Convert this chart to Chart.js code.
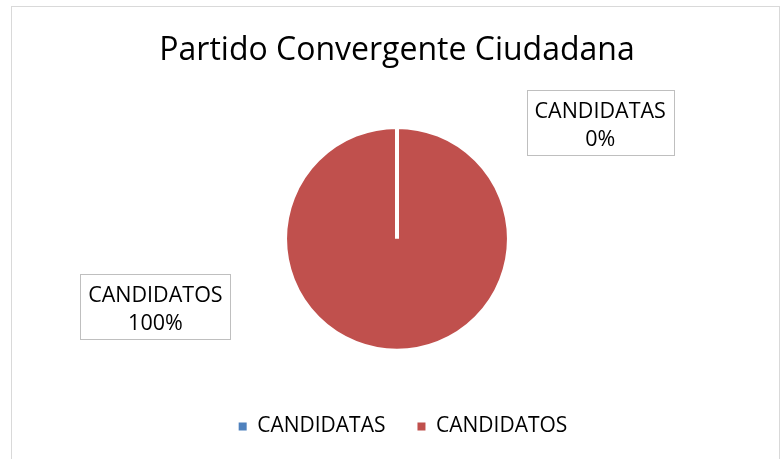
<!DOCTYPE html>
<html>
<head>
<meta charset="utf-8">
<script src="https://cdn.jsdelivr.net/npm/chart.js@4/dist/chart.umd.min.js"></script>
<style>
  html, body { margin: 0; padding: 0; background: #fff; overflow: hidden; }
  #frame { position: absolute; left: 11px; top: 6px; width: 769px; height: 470px; border: 1px solid #d9d9d9; box-sizing: border-box; }
  #wrap { position: absolute; left: 0; top: 0; width: 784px; height: 459px; }
</style>
</head>
<body>
<div id="frame"></div>
<div id="wrap"><canvas id="c" width="784" height="459"></canvas></div>
<script>
const chartTitle = 'Partido Convergente Ciudadana';
const categories = ['CANDIDATAS', 'CANDIDATOS'];
const values = [0, 100];
const percentLabels = ['0%', '100%'];
const sliceColors = ['#4f81bd', '#c0504d'];

const FONT = "'Open Sans', 'Noto Sans', sans-serif";

// label box anchors relative to pie centre, as multiples of radius
const labelOffsets = [[1.815, -1.036], [-2.158, 0.608]];

const boxLabels = {
  id: 'boxLabels',
  afterDatasetsDraw(chart) {
    const ctx = chart.ctx;
    const meta = chart.getDatasetMeta(0);
    ctx.save();
    ctx.font = '21.5px ' + FONT;
    ctx.textAlign = 'center';
    ctx.textBaseline = 'alphabetic';
    meta.data.forEach((arc, i) => {
      const r = arc.outerRadius;
      const cx = arc.x + labelOffsets[i][0] * r;
      const cy = arc.y + labelOffsets[i][1] * r;
      const l1 = categories[i], l2 = percentLabels[i];
      const w = Math.round(Math.max(ctx.measureText(l1).width, ctx.measureText(l2).width) + 16);
      const h = 65;
      const x0 = Math.round(cx - w / 2) + 0.5, y0 = Math.round(cy - h / 2) + 0.5;
      ctx.fillStyle = '#fff';
      ctx.fillRect(x0, y0, w, h);
      ctx.strokeStyle = '#bfbfbf';
      ctx.lineWidth = 1;
      ctx.strokeRect(x0, y0, w, h);
      ctx.fillStyle = '#000';
      ctx.fillText(l1, cx, cy - 4.5);
      ctx.fillText(l2, cx, cy + 23.5);
    });
    ctx.restore();
  }
};

// nudge the legend row slightly right, as in the reference
const legendNudge = {
  id: 'legendNudge',
  afterLayout(chart) {
    if (chart.legend) { chart.legend.left += 6; chart.legend.right += 6; }
  }
};

new Chart(document.getElementById('c'), {
  type: 'pie',
  data: {
    labels: categories,
    datasets: [{
      data: values,
      backgroundColor: sliceColors,
      borderColor: '#ffffff',
      borderWidth: 4
    }]
  },
  options: {
    responsive: false,
    animation: false,
    layout: { padding: { top: 0, bottom: 12, left: 10, right: 0 } },
    plugins: {
      title: {
        display: true,
        text: chartTitle,
        color: '#000',
        font: { family: FONT, size: 32, weight: 'normal' },
        padding: { top: 32, bottom: 54.5 }
      },
      legend: {
        position: 'bottom',
        title: { display: true, text: '', font: { size: 1 }, padding: { top: 30, bottom: 0 } },
        labels: {
          boxWidth: 8, boxHeight: 8,
          padding: 32,
          color: '#000',
          font: { family: FONT, size: 21 },
          generateLabels(chart) {
            return categories.map((c, i) => ({
              text: c,
              fillStyle: sliceColors[i],
              strokeStyle: sliceColors[i],
              lineWidth: 0,
              hidden: false,
              index: i,
              fontColor: '#000'
            }));
          }
        }
      },
      tooltip: { enabled: false }
    }
  },
  plugins: [boxLabels, legendNudge]
});
</script>
</body>
</html>
